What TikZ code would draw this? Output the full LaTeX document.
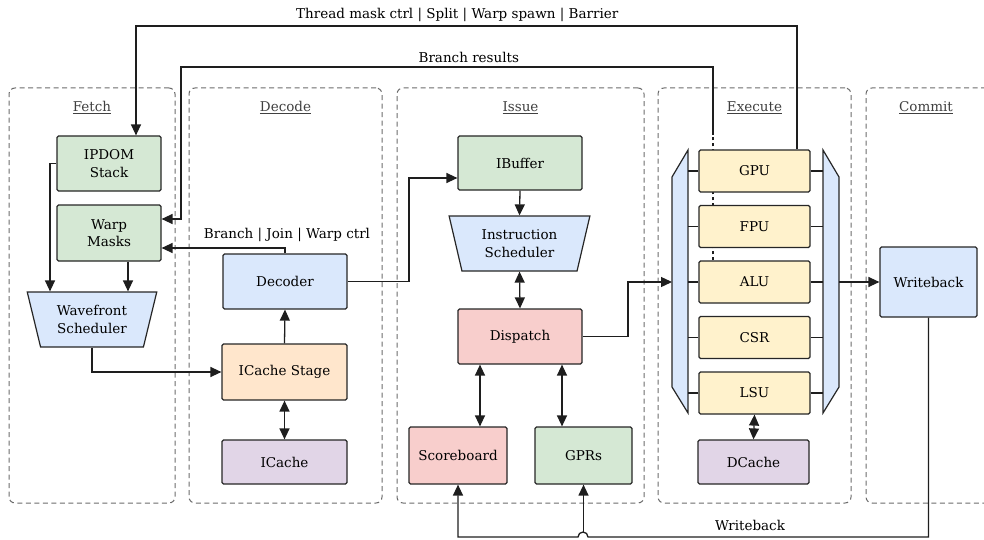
\documentclass[tikz,border=0pt]{standalone}
\usepackage{fontspec}
\setmainfont{DejaVu Serif}
\usetikzlibrary{arrows.meta, positioning, shapes.geometric, backgrounds}

\definecolor{fillGreen}{HTML}{D5E8D4}
\definecolor{fillBlue}{HTML}{DAE8FC}
\definecolor{fillOrange}{HTML}{FFE6CC}
\definecolor{fillRed}{HTML}{F8CECC}
\definecolor{fillPurple}{HTML}{E1D5E7}
\definecolor{fillYellow}{HTML}{FFF2CC}
\definecolor{lineDark}{HTML}{1E1E1E}

\begin{document}
\begin{tikzpicture}[
        x=1pt, y=-1pt,
        font=\fontsize{13.5}{17.5}\selectfont,
        stageBox/.style={
            draw=gray!85!black,
            dash pattern=on 5pt off 3.5pt,
            line width=1pt,
            rounded corners=6pt
        },
        stageTitle/.style={
            text=black!75,
            inner sep=2pt
        },
        unitBox/.style={
            rectangle,
            draw=black!85,
            line width=1.2pt,
            rounded corners=1.5pt,
            align=center,
            inner sep=0pt
        },
        schedBox/.style={
            trapezium,
            shape border rotate=180,
            trapezium stretches=true,
            draw=black!85,
            fill=fillBlue,
            line width=1.2pt,
            align=center,
            inner sep=0pt
        },
        muxShape/.style={
            draw=black!85,
            fill=fillBlue,
            line width=1.2pt
        },
        flowLine/.style={
            draw=lineDark,
            line width=1.3pt
        },
        flowArrow/.style={
            flowLine,
            -{Triangle[length=11pt, width=10pt]}
        },
        biArrow/.style={
            flowLine,
            {Triangle[length=11pt, width=10pt]}-{Triangle[length=11pt, width=10pt]}
        },
        lineLabel/.style={
            inner sep=1pt
        }
    ]

        \useasboundingbox (0,0) rectangle (984,540);

        % Pipeline stages
        \node[stageBox, minimum width=166pt, minimum height=415pt] (fetchStage) at (92,295.5) {};
        \node[stageBox, minimum width=193pt, minimum height=415pt] (decodeStage) at (285.5,295.5) {};
        \node[stageBox, minimum width=247pt, minimum height=415pt] (issueStage) at (520.5,295.5) {};
        \node[stageBox, minimum width=193pt, minimum height=415pt] (executeStage) at (754.5,295.5) {};
        \node[stageBox, minimum width=160pt, minimum height=415pt] (commitStage) at (946,295.5) {};

        \node[stageTitle, below=12pt of fetchStage.north] {\underline{Fetch}};
        \node[stageTitle, below=12pt of decodeStage.north] {\underline{Decode}};
        \node[stageTitle, below=12pt of issueStage.north] {\underline{Issue}};
        \node[stageTitle, below=12pt of executeStage.north] {\underline{Execute}};
        \node[stageTitle, below=12pt of commitStage.north, xshift=-20pt] {\underline{Commit}};

        % Fetch
        \node[unitBox, fill=fillGreen, minimum width=104pt, minimum height=55pt] (ipdom) at (109,163.5) {IPDOM\\Stack};
        \node[unitBox, fill=fillGreen, minimum width=104pt, minimum height=56pt] (masks) at (109,233) {Warp\\Masks};
        \node[schedBox, minimum width=130pt, minimum height=55pt, trapezium angle=72] (wavefront) at (92,319.5) {Wavefront\\Scheduler};

        % Decode
        \node[unitBox, fill=fillBlue, minimum width=124pt, minimum height=55pt] (decoder) at (285,281.5) {Decoder};
        \node[unitBox, fill=fillOrange, minimum width=125pt, minimum height=56pt] (icstage) at (284.5,372) {ICache Stage};
        \node[unitBox, fill=fillPurple, minimum width=125pt, minimum height=44pt] (icache) at (284.5,462) {ICache};

        % Issue
        \node[unitBox, fill=fillGreen, minimum width=124pt, minimum height=54pt] (ibuffer) at (520,163) {IBuffer};
        \node[schedBox, minimum width=141pt, minimum height=55pt, trapezium angle=73] (isched) at (519.5,243.5) {Instruction\\Scheduler};
        \node[unitBox, fill=fillRed, minimum width=124pt, minimum height=55pt] (dispatch) at (520,336.5) {Dispatch};
        \node[unitBox, fill=fillRed, minimum width=98pt, minimum height=57pt] (scoreboard) at (458,455.5) {Scoreboard};
        \node[unitBox, fill=fillGreen, minimum width=97pt, minimum height=57pt] (gprs) at (583.5,455.5) {GPRs};

        % Execute
        \draw[muxShape] (688,150) -- (688,413) -- (672,387) -- (672,177) -- cycle;
        \draw[muxShape] (823,150) -- (823,413) -- (839,387) -- (839,177) -- cycle;
        \coordinate (muxLeft) at (672,282);
        \coordinate (muxLeftIn) at (688,282);
        \coordinate (muxRightIn) at (823,282);
        \coordinate (muxRight) at (839,282);

        \node[unitBox, fill=fillYellow, minimum width=111pt, minimum height=42pt] (gpu) at (754.5,171) {GPU};
        \node[unitBox, fill=fillYellow, minimum width=111pt, minimum height=42pt] (fpu) at (754.5,226.5) {FPU};
        \node[unitBox, fill=fillYellow, minimum width=111pt, minimum height=42pt] (alu) at (754.5,282) {ALU};
        \node[unitBox, fill=fillYellow, minimum width=111pt, minimum height=42pt] (csr) at (754.5,337.5) {CSR};
        \node[unitBox, fill=fillYellow, minimum width=111pt, minimum height=42pt] (lsu) at (754.5,393) {LSU};
        \node[unitBox, fill=fillPurple, minimum width=111pt, minimum height=44pt] (dcache) at (753.5,462) {DCache};

        % Commit
        \node[unitBox, fill=fillBlue, minimum width=97pt, minimum height=70pt] (writeback) at (928.5,282) {Writeback};

        % Bend points
        \coordinate (ipdomTurn) at (50,163.5);
        \coordinate (decTurn) at (409,178);
        \coordinate (dispTurn) at (628,282);
        \coordinate (maskTopR) at (797,26);
        \coordinate (maskTopL) at (136,26);
        \coordinate (branchTopR) at (713,67);
        \coordinate (branchTopL) at (181,67);
        \coordinate (branchDash) at (713,134);
        \coordinate (wbBottom) at (458,537);
        \coordinate (jumpRight) at (588,537);
        \coordinate (jumpTop) at (583,532);

        % Fetch connections
        \draw[flowArrow] (ipdom.west) -- (ipdomTurn) -- (ipdomTurn |- wavefront.north);
        \draw[flowArrow] ([xshift=19pt]masks.south) -- ([xshift=19pt]masks.south |- wavefront.north);
        \draw[flowArrow] (wavefront.south) |- (icstage.west);

        % Decode connections
        \draw[flowArrow] (icstage.north) -- (decoder.south);
        \draw[biArrow] (icache.north) -- (icstage.south);
        \draw[flowArrow] (decoder.north) |- ([yshift=-15pt]masks.east);
        \node[lineLabel] (bjLabel) at (287,235) {Branch | Join | Warp ctrl};
        \draw[flowArrow] (decoder.east) -| (decTurn) -- ([yshift=-15pt]ibuffer.west);

        % Issue connections
        \draw[flowArrow] (ibuffer.south) -- (isched.north);
        \draw[biArrow] (isched.south) -- (dispatch.north);
        \draw[biArrow] ([xshift=22pt]scoreboard.north |- dispatch.south) -- ([xshift=22pt]scoreboard.north);
        \draw[biArrow] ([xshift=-21.5pt]gprs.north |- dispatch.south) -- ([xshift=-21.5pt]gprs.north);
        \draw[flowArrow] (dispatch.east) -| (dispTurn) -- (muxLeft);

        % Execute connections
        \draw[flowLine] (gpu.west) -- (gpu.west -| muxLeftIn);
        \draw[flowLine] (fpu.west) -- (fpu.west -| muxLeftIn);
        \draw[flowLine] (alu.west) -- (alu.west -| muxLeftIn);
        \draw[flowLine] (csr.west) -- (csr.west -| muxLeftIn);
        \draw[flowLine] (lsu.west) -- (lsu.west -| muxLeftIn);
        \draw[flowLine] (gpu.east) -- (gpu.east -| muxRightIn);
        \draw[flowLine] (fpu.east) -- (fpu.east -| muxRightIn);
        \draw[flowLine] (alu.east) -- (alu.east -| muxRightIn);
        \draw[flowLine] (csr.east) -- (csr.east -| muxRightIn);
        \draw[flowLine] (lsu.east) -- (lsu.east -| muxRightIn);
        \draw[biArrow] (lsu.south) -- (dcache.north);
        \draw[flowArrow] (muxRight) -- (writeback.west);

        % Feedback paths
        \draw[flowArrow] (gpu.north -| maskTopR) -- (maskTopR)
            -- node[lineLabel, above=3pt, pos=0.514] {Thread mask ctrl | Split | Warp spawn | Barrier}
            (maskTopL) -- (maskTopL |- ipdom.north);

        \begin{scope}[on background layer]
            \draw[flowLine, dashed] (alu.north -| branchDash) -- (branchDash);
        \end{scope}
        \draw[flowArrow] (branchDash) -- (branchTopR)
            -- node[lineLabel, above=3pt, pos=0.459] {Branch results}
            (branchTopL) |- ([yshift=14pt]masks.east);

        % Writeback path
        \draw[flowArrow] (writeback.south) |- (jumpRight)
            arc[start angle=0, end angle=180, radius=5pt]
            -- (wbBottom) -- (scoreboard.south);
        \draw[flowArrow] (gprs.south |- jumpTop) -- (gprs.south);
        \node[lineLabel] (wbLabel) at (750,525) {Writeback};

    \end{tikzpicture}
\end{document}
